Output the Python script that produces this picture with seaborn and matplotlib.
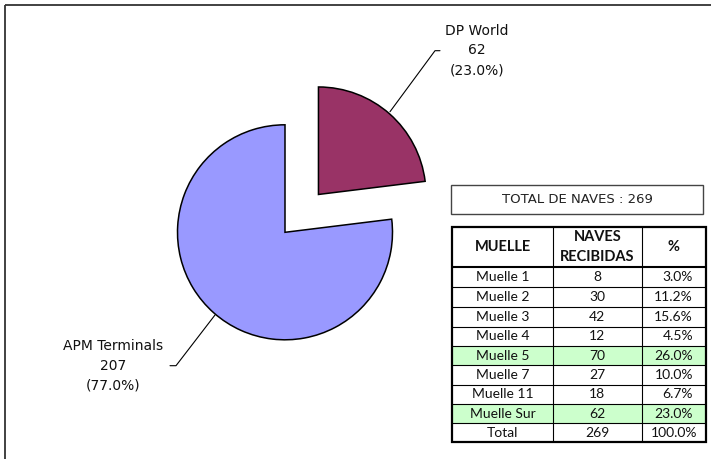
import matplotlib
matplotlib.use("Agg")
import matplotlib.pyplot as plt
import seaborn as sns
from matplotlib.patches import Rectangle

# ---- data ----
companies = ["DP World", "APM Terminals"]
ships = [62, 207]
company_pct = ["23.0%", "77.0%"]
company_colors = ["#993366", "#9999FF"]

muelles = ["Muelle 1", "Muelle 2", "Muelle 3", "Muelle 4", "Muelle 5",
           "Muelle 7", "Muelle 11", "Muelle Sur", "Total"]
naves = [8, 30, 42, 12, 70, 27, 18, 62, 269]
naves_pct = ["3.0%", "11.2%", "15.6%", "4.5%", "26.0%", "10.0%", "6.7%", "23.0%", "100.0%"]
highlight = ["Muelle 5", "Muelle Sur"]
headers = ["MUELLE", "NAVES\nRECIBIDAS", "%"]
total_title = "TOTAL DE NAVES : 269"

sns.set_theme(style="white")
plt.rcParams['font.family'] = ['DejaVu Sans']

W, H = 711, 459
fig = plt.figure(figsize=(W / 100, H / 100), dpi=100)
ax = fig.add_axes([0, 0, 1, 1])

def Y(y):
    return H - y

# pie (explode is in data units here: pixels)
wedges, _ = ax.pie(ships, colors=company_colors, startangle=90, counterclock=False,
                   explode=[50.5, 0], center=(285, Y(232.3)), radius=107.5,
                   wedgeprops=dict(edgecolor="black", linewidth=1.1))
ax.set_xlim(0, W)
ax.set_ylim(0, H)
ax.set_aspect("auto")
ax.axis("off")

# labels with leader lines
lbl_font = dict(fontsize=10, ha="center", va="center", color="#111111", linespacing=1.5)
ax.text(477, Y(50.5), f"{companies[0]}\n{ships[0]}\n({company_pct[0]})", **lbl_font)
ax.plot([390, 435, 440], [Y(111.7), Y(50.7), Y(50.7)], color="black", lw=0.8)
ax.text(113, Y(366), f"{companies[1]}\n{ships[1]}\n({company_pct[1]})", **lbl_font)
ax.plot([215, 176, 170], [Y(315), Y(365.7), Y(365.7)], color="black", lw=0.8)

# outer frame
ax.plot([5, 5], [Y(459), Y(4.5)], color="#333333", lw=1.3, solid_capstyle="butt")
ax.plot([5, 711], [Y(4.5), Y(4.5)], color="#333333", lw=1.3, solid_capstyle="butt")

# total box
ax.add_patch(Rectangle((451, Y(214)), 703 - 451, 214 - 185, fill=False,
                       edgecolor="#444444", lw=1.0))
ax.text(577, Y(199.5), total_title, ha="center", va="center", fontsize=9.5, color="#222222")

# table
tfont = ['Lato', 'DejaVu Sans']
fs = 10
x0, x1, x2, x3 = 452, 553, 641.7, 706
top, hdr_bot = 227, 267.3
row_lines = [267.3, 287.3, 306.7, 326.7, 346, 365.3, 385, 404, 423.3, 442]
for i, m in enumerate(muelles):
    yt, yb = row_lines[i], row_lines[i + 1]
    if m in highlight:
        ax.add_patch(Rectangle((x0, Y(yb)), x3 - x0, yb - yt, facecolor="#CCFFCC",
                               edgecolor="none"))
    yc = Y((yt + yb) / 2)
    ax.text((x0 + x1) / 2, yc, m, ha="center", va="center", fontsize=fs,
            family=tfont, color="#111111")
    ax.text((x1 + x2) / 2, yc, str(naves[i]), ha="center", va="center", fontsize=fs,
            family=tfont, color="#111111")
    if m == "Total":
        ax.text((x2 + x3) / 2, yc, naves_pct[i], ha="center", va="center", fontsize=fs,
                family=tfont, color="#111111")
    else:
        ax.text(693, yc, naves_pct[i], ha="right", va="center", fontsize=fs,
                family=tfont, color="#111111")

for yl in row_lines[1:-1]:
    ax.plot([x0, x3], [Y(yl), Y(yl)], color="black", lw=0.8)
ax.plot([x0, x3], [Y(hdr_bot), Y(hdr_bot)], color="black", lw=1.5)
for xl in (x1, x2):
    ax.plot([xl, xl], [Y(top), Y(row_lines[-1])], color="black", lw=0.8)
ax.add_patch(Rectangle((x0, Y(row_lines[-1])), x3 - x0, row_lines[-1] - top,
                       fill=False, edgecolor="black", lw=1.6))

hc = [(x0 + x1) / 2, (x1 + x2) / 2, (x2 + x3) / 2]
for hx, h in zip(hc, headers):
    ax.text(hx, Y(247), h, ha="center", va="center", fontsize=10.5, fontweight="bold",
            family=tfont, color="#111111", linespacing=1.55)

fig.savefig("out.png", dpi=100)
